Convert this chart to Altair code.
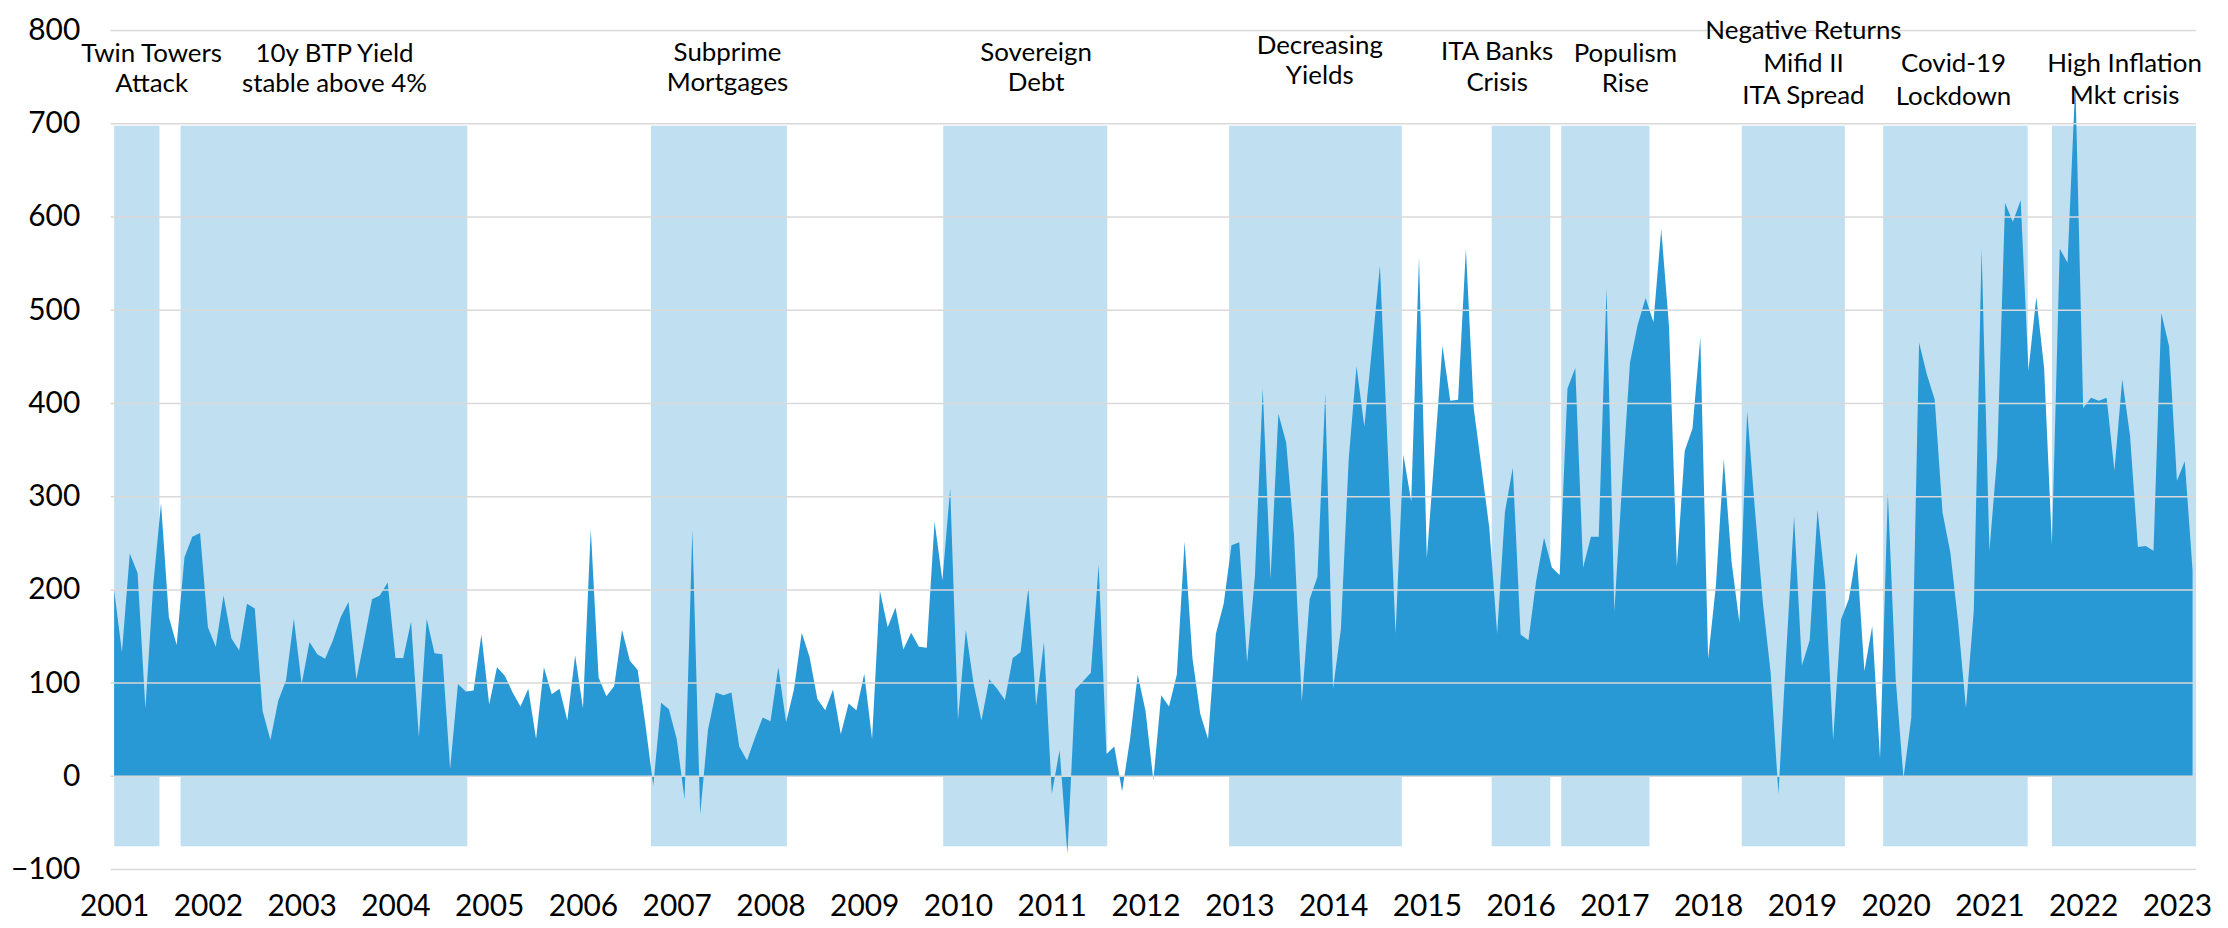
import altair as alt
import pandas as pd

# ---------------- data ----------------
years = list(range(2001, 2024))          # x tick labels (January of each year)

# monthly series, Jan 2001 .. Mar 2023
values = [
    200, 133, 239, 218, 73, 205, 293, 171, 141, 235, 257, 261,      # 2001
    160, 139, 194, 148, 135, 185, 180, 70, 39, 81, 103, 169,        # 2002
    99, 144, 131, 126, 146, 171, 187, 104, 146, 190, 194, 208,      # 2003
    127, 127, 166, 42, 169, 132, 131, 8, 99, 91, 92, 152,           # 2004
    77, 117, 108, 90, 75, 94, 40, 117, 88, 94, 60, 130,             # 2005
    73, 265, 106, 86, 97, 157, 124, 114, 55, -10, 79, 72,           # 2006
    40, -25, 265, -41, 50, 90, 87, 90, 32, 17, 41, 63,              # 2007
    59, 117, 58, 93, 154, 128, 83, 71, 93, 45, 78, 71,              # 2008
    110, 40, 199, 160, 181, 136, 154, 139, 138, 273, 210, 309,      # 2009
    61, 157, 99, 60, 104, 94, 82, 127, 133, 202, 76, 144,           # 2010
    -19, 28, -83, 93, 102, 111, 227, 24, 32, -16, 39, 109,          # 2011
    70, -4, 87, 75, 109, 252, 127, 67, 40, 153, 185, 248,           # 2012
    251, 122, 215, 416, 212, 389, 358, 259, 80, 190, 214, 411,      # 2013
    94, 158, 340, 440, 375, 461, 548, 350, 153, 345, 295, 557,      # 2014
    234, 347, 462, 403, 404, 566, 395, 331, 266, 153, 284, 331,     # 2015
    152, 146, 210, 256, 224, 216, 416, 438, 224, 257, 257, 524,     # 2016
    177, 315, 444, 485, 513, 487, 587, 482, 225, 349, 373, 471,     # 2017
    126, 205, 340, 230, 165, 392, 285, 187, 111, -19, 133, 279,     # 2018
    119, 146, 286, 205, 39, 168, 190, 240, 113, 161, 19, 304,       # 2019
    105, -2, 63, 465, 431, 404, 283, 240, 165, 73, 178, 566,        # 2020
    242, 344, 615, 595, 618, 436, 514, 438, 249, 566, 551, 745,     # 2021
    395, 406, 403, 406, 328, 426, 365, 246, 247, 242, 497, 461,     # 2022
    317, 338, 221,                                                  # 2023
]

# shaded periods (in months since Jan 2001)
band_names = ["Twin Towers", "BTP 4%", "Subprime", "Sovereign", "Decreasing",
              "ITA Banks", "Populism", "Negative Returns", "Covid-19", "High Inflation"]
band_start = [0.0, 8.5, 68.7, 106.1, 142.7, 176.3, 185.2, 208.3, 226.4, 248.0]
band_end = [5.8, 45.2, 86.1, 127.1, 164.8, 183.8, 196.5, 221.5, 244.9, 266.45]
band_top = 698
band_bottom = -75

# annotation lines
note_text = ["Twin Towers", "Attack",
             "10y BTP Yield", "stable above 4%",
             "Subprime", "Mortgages",
             "Sovereign", "Debt",
             "Decreasing", "Yields",
             "ITA Banks", "Crisis",
             "Populism", "Rise",
             "Negative Returns", "Mifid II", "ITA Spread",
             "Covid-19", "Lockdown",
             "High Inflation", "Mkt crisis"]
note_x = [4.8, 4.8, 28.2, 28.2, 78.5, 78.5, 118.0, 118.0, 154.3, 154.3,
          177.0, 177.0, 193.4, 193.4, 216.2, 216.2, 216.2, 235.4, 235.4,
          257.3, 257.3]
note_y = [775, 743, 775, 743, 776, 744, 776, 744, 783, 751,
          777, 744, 775, 743, 799, 764, 730, 764, 729, 764, 730]

y_ticks = list(range(-100, 801, 100))

# ---------------- tables ----------------
series = pd.DataFrame({"m": list(range(len(values))), "v": values})
bands = pd.DataFrame({"name": band_names, "start": band_start, "end": band_end,
                      "top": [band_top] * len(band_names),
                      "bottom": [band_bottom] * len(band_names)})
notes = pd.DataFrame({"text": note_text, "x": note_x, "y": note_y})
grid = pd.DataFrame({"g": y_ticks})

FONT = "Lato"
x_scale = alt.Scale(domain=[-0.45, 266.45], nice=False, zero=False)
y_scale = alt.Scale(domain=[-100, 800], nice=False)

x_axis = alt.Axis(
    values=[12 * (y - years[0]) for y in years],
    labelExpr=f"'' + ({years[0]} + round(datum.value / 12))",
    title=None, grid=False, domain=False, ticks=False,
    labelFont=FONT, labelFontSize=30, labelColor="#000000",
    labelPadding=22, labelFlush=False, labelOverlap=False,
)
y_axis = alt.Axis(
    values=y_ticks, title=None, grid=False, domain=False, ticks=False,
    labelFont=FONT, labelFontSize=30, labelColor="#000000",
    labelPadding=31, labelFlush=False, labelOverlap=False,
)

band_layer = alt.Chart(bands).mark_rect(color="#C0E0F2", clip=True).encode(
    x=alt.X("start:Q", scale=x_scale, axis=x_axis),
    x2="end:Q",
    y=alt.Y("top:Q", scale=y_scale, axis=y_axis),
    y2="bottom:Q",
)

area_layer = alt.Chart(series).mark_area(color="#2899D5", interpolate="linear").encode(
    x=alt.X("m:Q", scale=x_scale),
    y=alt.Y("v:Q", scale=y_scale, stack=None),
    y2=alt.datum(0),
)

grid_layer = alt.Chart(grid).mark_rule(color="#d9d9d9", strokeWidth=1.5).encode(
    y=alt.Y("g:Q", scale=y_scale),
)

text_layer = alt.Chart(notes).mark_text(
    font=FONT, fontSize=26, color="#000000", align="center", baseline="middle"
).encode(
    x=alt.X("x:Q", scale=x_scale),
    y=alt.Y("y:Q", scale=y_scale),
    text="text:N",
)

chart = alt.layer(band_layer, area_layer, grid_layer, text_layer).properties(
    width=2093,
    height=842,
    autosize=alt.AutoSizeParams(type="none"),
    padding={"left": 103, "top": 21, "right": 24, "bottom": 50},
    background="#ffffff",
).configure_view(stroke=None)

chart.save("out.html", embed_options={"renderer": "svg", "actions": False})
